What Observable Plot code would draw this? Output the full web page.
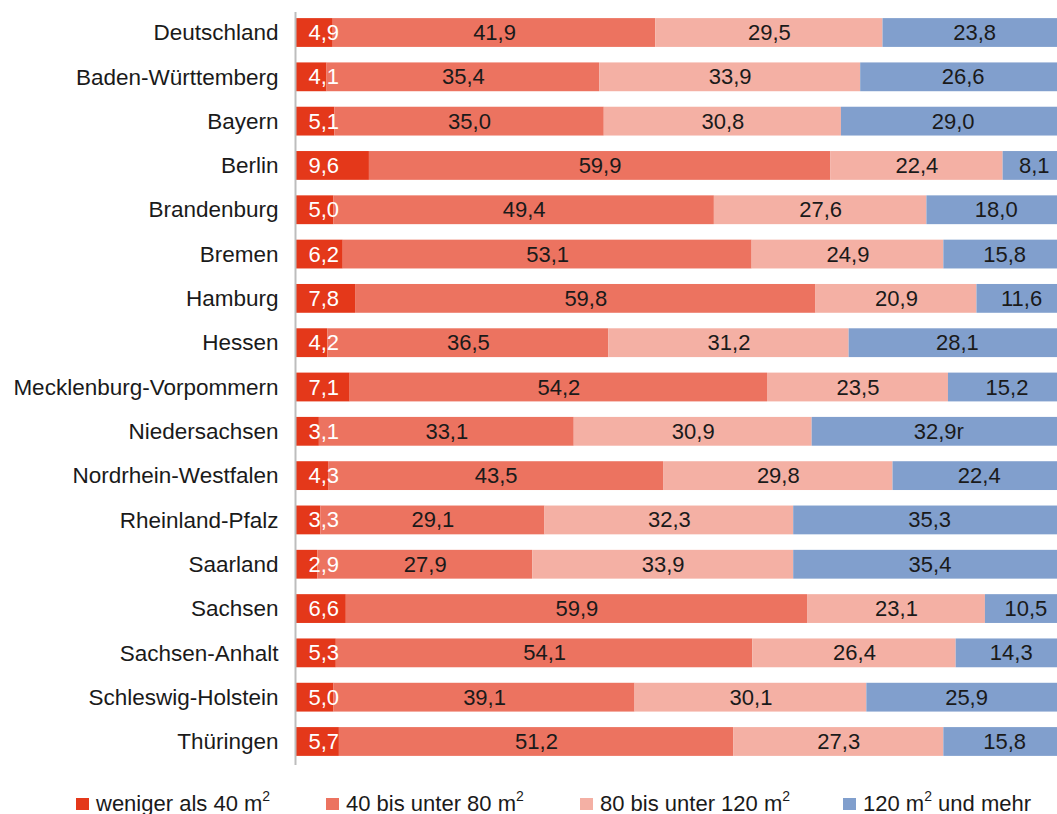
<!DOCTYPE html>
<html><head><meta charset="utf-8">
<script src="https://cdn.jsdelivr.net/npm/d3@7"></script>
<script src="https://cdn.jsdelivr.net/npm/@observablehq/plot@0.6"></script>
<style>
body{margin:0;background:#fff;font-family:"Liberation Sans",Arial,sans-serif;}
#chart svg{overflow:hidden;}
#legend{height:42px;font-size:22px;color:#1a1a1a;position:relative;}
.it{position:absolute;display:flex;align-items:center;top:32px;transform:translateY(-50%);white-space:nowrap;}
.sw{width:13px;height:12px;margin-right:7px;}
sup{font-size:14px;vertical-align:top;position:relative;top:-2px;line-height:1;margin-left:0;}
</style></head><body>
<div id="chart"></div>
<div id="legend"></div>
<script>
const regions = ["Deutschland","Baden-Württemberg","Bayern","Berlin","Brandenburg","Bremen","Hamburg","Hessen","Mecklenburg-Vorpommern","Niedersachsen","Nordrhein-Westfalen","Rheinland-Pfalz","Saarland","Sachsen","Sachsen-Anhalt","Schleswig-Holstein","Thüringen"];
const categories = ["weniger als 40 m²","40 bis unter 80 m²","80 bis unter 120 m²","120 m² und mehr"];
const under40 = [4.9,4.1,5.1,9.6,5.0,6.2,7.8,4.2,7.1,3.1,4.3,3.3,2.9,6.6,5.3,5.0,5.7];
const from40to80 = [41.9,35.4,35.0,59.9,49.4,53.1,59.8,36.5,54.2,33.1,43.5,29.1,27.9,59.9,54.1,39.1,51.2];
const from80to120 = [29.5,33.9,30.8,22.4,27.6,24.9,20.9,31.2,23.5,30.9,29.8,32.3,33.9,23.1,26.4,30.1,27.3];
const over120 = [23.8,26.6,29.0,8.1,18.0,15.8,11.6,28.1,15.2,32.9,22.4,35.3,35.4,10.5,14.3,25.9,15.8];
const notes = {"Niedersachsen|120 m² und mehr":"r"};
const colors = ["#E4381A","#EC7360","#F4B0A4","#819FCD"];
const series = [under40, from40to80, from80to120, over120];

const data = [];
regions.forEach((r,i)=>categories.forEach((c,k)=>{
  data.push({region:r, cat:c, value:series[k][i], label:series[k][i].toFixed(1).replace(".",",")+(notes[r+"|"+c]||"")});
}));
const firstData = data.filter(d=>d.cat===categories[0]);

const H = 772;
const plot = Plot.plot({
  width:1057, height:H,
  marginLeft:295, marginRight:0, marginTop:12, marginBottom:7,
  style:{fontFamily:"Liberation Sans, Arial, sans-serif", fontSize:"22px", color:"#1a1a1a", background:"#fff", overflow:"hidden"},
  x:{domain:[0,100], range:[295,1065], axis:null},
  y:{domain:regions, range:[2.6,771.4], padding:0.35, round:false, label:null, axis:null},
  color:{domain:categories, range:colors},
  marks:[
    Plot.barX(data, Plot.stackX({x:"value", y:"region", fill:"cat", order:categories})),
    Plot.text(data, Plot.stackX({x:"value", y:"region", z:"cat", order:categories,
      text:d=>d.cat===categories[0]?null:d.label, fill:"#1a1a1a", fontSize:22})),
    Plot.text(firstData, {x:0, y:"region", text:"label", textAnchor:"start", dx:13, fill:"#ffffff", fontSize:22}),
    Plot.ruleX([0], {stroke:"#bdbdbd", strokeWidth:2}),
    Plot.axisY({tickSize:0, tickPadding:17, fontSize:22.5, label:null, fill:"#1a1a1a"})
  ]
});
document.getElementById("chart").appendChild(plot);

const lg = document.getElementById("legend");
const pos = [76,326,580,843];
const html = ["weniger als 40 m<sup>2</sup>","40 bis unter 80 m<sup>2</sup>","80 bis unter 120 m<sup>2</sup>","120 m<sup>2</sup> und mehr"];
categories.forEach((c,k)=>{
  const d=document.createElement("div");d.className="it";d.style.left=pos[k]+"px";
  d.innerHTML=`<span class="sw" style="background:${colors[k]}"></span><span>${html[k]}</span>`;
  lg.appendChild(d);
});
</script></body></html>
